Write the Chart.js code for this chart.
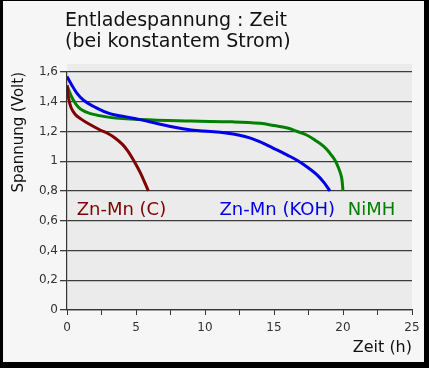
<!DOCTYPE html>
<html>
<head>
<meta charset="utf-8">
<script src="https://cdn.jsdelivr.net/npm/chart.js@4/dist/chart.umd.min.js"></script>
<style>
  html, body { margin: 0; padding: 0; background: #000; }
  #wrap { position: absolute; left: 0; top: 0; width: 429px; height: 368px; }
</style>
</head>
<body>
<div id="wrap"><canvas id="c" width="429" height="368"></canvas></div>
<script>
// ---- data ----
const titleLines = ['Entladespannung : Zeit', '(bei konstantem Strom)'];
const seriesNames = ['Zn-Mn (C)', 'Zn-Mn (KOH)', 'NiMH'];

const znMnC_t = [0, 0.1, 0.3, 0.6, 1, 1.6, 2.4, 3, 3.5, 4, 4.4, 4.8, 5.3, 5.9];
const znMnC_v = [1.51, 1.43, 1.36, 1.315, 1.285, 1.25, 1.21, 1.185, 1.155, 1.115, 1.07, 1.01, 0.925, 0.8];

const znMnKOH_t = [0, 0.3, 0.7, 1.2, 1.9, 3.1, 4.2, 5.3, 7.7, 9, 10.4, 11.5, 12.5, 13.3, 14, 14.9, 16, 16.7, 17.5, 18.1, 18.6, 19.05];
const znMnKOH_v = [1.57, 1.52, 1.46, 1.41, 1.37, 1.32, 1.3, 1.28, 1.23, 1.21, 1.2, 1.19, 1.175, 1.155, 1.13, 1.09, 1.04, 1.005, 0.955, 0.91, 0.86, 0.8];

const nimh_t = [0, 0.3, 0.6, 1, 1.7, 3.1, 5.3, 9, 12, 14, 15, 15.9, 16.7, 17.4, 18, 18.6, 19, 19.4, 19.7, 19.9, 20];
const nimh_v = [1.51, 1.44, 1.39, 1.35, 1.32, 1.295, 1.28, 1.27, 1.265, 1.255, 1.24, 1.225, 1.2, 1.175, 1.14, 1.1, 1.06, 1.01, 0.95, 0.89, 0.8];

const xTickLabels = ['0', '5', '10', '15', '20', '25'];
const yTickLabels = ['0', '0,2', '0,4', '0,6', '0,8', '1', '1,2', '1,4', '1,6'];

const colors = ['#800000', '#0000e6', '#008000'];

function pts(t, v) { return t.map((x, i) => ({ x: x, y: v[i] })); }

const FONT = '"DejaVu Sans", Verdana, sans-serif';

const framePlugin = {
  id: 'frame',
  beforeDraw(chart) {
    const ctx = chart.ctx, a = chart.chartArea;
    ctx.save();
    ctx.fillStyle = '#000';
    ctx.fillRect(0, 0, chart.width, chart.height);
    ctx.fillStyle = '#f6f6f6';
    ctx.fillRect(3, 1, 421, 361);
    ctx.fillStyle = '#ebebeb';
    ctx.fillRect(a.left, a.top - 8, a.right - a.left, a.bottom - a.top + 8);
    ctx.restore();
  },
  afterDraw(chart) {
    const ctx = chart.ctx;
    ctx.save();
    ctx.fillStyle = '#111';
    ctx.font = '19px ' + FONT;
    ctx.textAlign = 'left';
    ctx.textBaseline = 'alphabetic';
    ctx.fillText(titleLines[0], 65, 26);
    ctx.fillText(titleLines[1], 65, 47);
    const xs = chart.scales.x, ys = chart.scales.y;
    ctx.font = '18px ' + FONT;
    ctx.textBaseline = 'middle';
    const labelPos = [[0.7, 0.67], [11.05, 0.67], [20.35, 0.67]];
    seriesNames.forEach((n, i) => {
      ctx.fillStyle = colors[i];
      ctx.fillText(n, xs.getPixelForValue(labelPos[i][0]), ys.getPixelForValue(labelPos[i][1]));
    });
    ctx.restore();
  }
};

new Chart(document.getElementById('c'), {
  type: 'line',
  data: {
    datasets: [
      { label: seriesNames[0], data: pts(znMnC_t, znMnC_v), borderColor: colors[0] },
      { label: seriesNames[1], data: pts(znMnKOH_t, znMnKOH_v), borderColor: colors[1] },
      { label: seriesNames[2], data: pts(nimh_t, nimh_v), borderColor: colors[2] }
    ].map(d => Object.assign(d, { borderWidth: 3, pointRadius: 0, fill: false, tension: 0.4, borderCapStyle: 'butt' }))
  },
  options: {
    responsive: false,
    animation: false,
    events: [],
    layout: { padding: { left: 0, top: 72, right: 17, bottom: 0 } },
    plugins: { legend: { display: false }, tooltip: { enabled: false }, title: { display: false } },
    scales: {
      x: {
        type: 'linear', min: 0, max: 25,
        afterFit(s) { s.height = 58; },
        ticks: {
          stepSize: 2.5, autoSkip: false, maxRotation: 0, padding: 6,
          color: '#333', font: { family: FONT, size: 12 },
          callback(v) { return (v % 5 === 0) ? xTickLabels[v / 5] : ''; }
        },
        grid: { drawOnChartArea: false, drawTicks: true, tickLength: 5, color: '#333', lineWidth: 1 },
        border: { display: true, color: '#333', width: 1.2 },
        title: {
          display: true, text: 'Zeit (h)', align: 'end', color: '#111',
          font: { family: FONT, size: 16 }, padding: { top: 0, bottom: 11 }
        }
      },
      y: {
        type: 'linear', min: 0, max: 1.6,
        afterFit(s) { s.width = 67; },
        ticks: {
          stepSize: 0.2, padding: 2, color: '#333', font: { family: FONT, size: 12 },
          callback(v) { return yTickLabels[Math.round(v / 0.2)]; }
        },
        grid: { drawOnChartArea: true, drawTicks: true, tickLength: 7, color: '#3c3c3c', lineWidth: 1.3 },
        border: { display: true, color: '#333', width: 1.2 },
        title: {
          display: true, text: 'Spannung (Volt)', align: 'end', color: '#111',
          font: { family: FONT, size: 15 }, padding: { top: 10, bottom: 0 }
        }
      }
    }
  },
  plugins: [framePlugin]
});
</script>
</body>
</html>
